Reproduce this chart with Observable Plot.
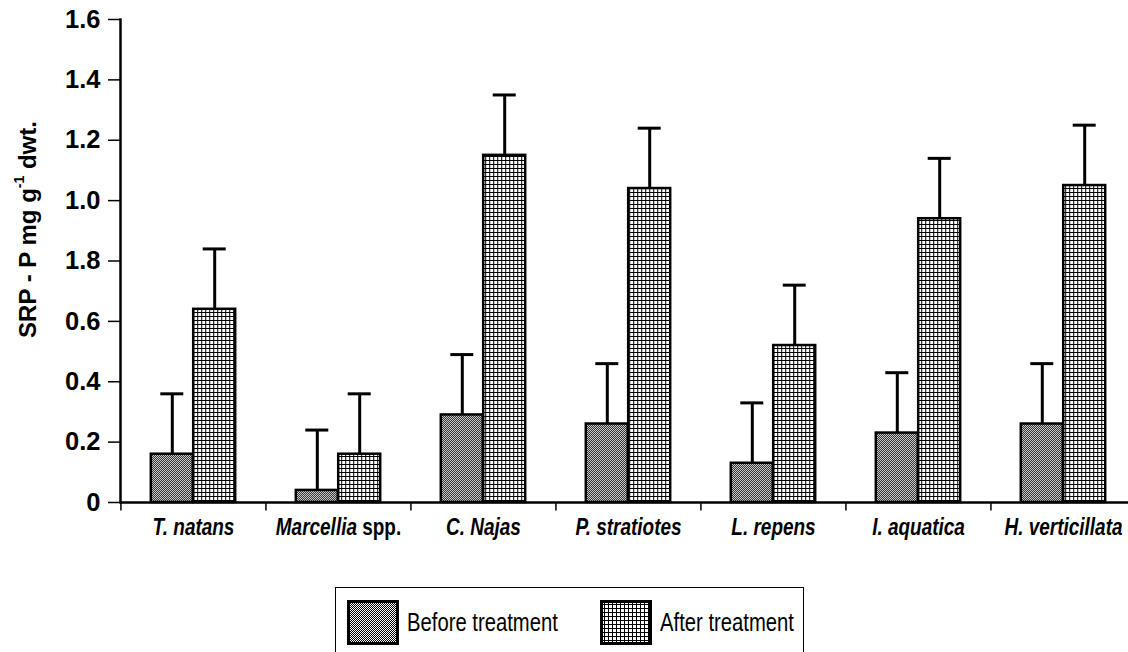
<!DOCTYPE html>
<html>
<head>
<meta charset="utf-8">
<script src="https://cdn.jsdelivr.net/npm/d3@7"></script>
<script src="https://cdn.jsdelivr.net/npm/@observablehq/plot@0.6"></script>
<style>
  html, body { margin: 0; padding: 0; background: #fff; }
  #wrap { position: relative; width: 1128px; height: 652px; overflow: hidden; }
  #legend { position: absolute; left: 335px; top: 587px; width: 469px; height: 68px;
            border: 1.5px solid #000; box-sizing: border-box;
            font-family: "Liberation Sans", Arial, sans-serif; }
  .item { position: absolute; top: 11.5px; height: 45px; display: flex; align-items: center; }
  .item span { display: inline-block; font-size: 25px; color: #000; margin-left: 8px; white-space: nowrap;
               transform: scaleX(0.81); transform-origin: 0 50%; }
  .item svg { display: block; }
</style>
</head>
<body>
<svg width="0" height="0" style="position:absolute">
  <defs>
    <pattern id="pat-before" width="2" height="2" patternUnits="userSpaceOnUse">
      <rect width="2" height="2" fill="#fff"/>
      <rect x="0" y="0" width="1" height="1" fill="#000"/>
      <rect x="1" y="1" width="1" height="1" fill="#000"/>
    </pattern>
    <pattern id="pat-after" width="4" height="4" patternUnits="userSpaceOnUse">
      <rect width="4" height="4" fill="#fff"/>
      <rect x="0" y="0" width="4" height="1" fill="#000"/>
      <rect x="0" y="0" width="1" height="4" fill="#000"/>
    </pattern>
  </defs>
</svg>
<div id="wrap"></div>
<script>
// ---- data ----
const species = ["T. natans", "Marcellia spp.", "C. Najas", "P. stratiotes", "L. repens", "I. aquatica", "H. verticillata"];
const seriesNames = ["Before treatment", "After treatment"];
const beforeValues = [0.16, 0.04, 0.29, 0.26, 0.13, 0.23, 0.26];
const afterValues = [0.64, 0.16, 1.15, 1.04, 0.52, 0.94, 1.05];
const beforeErrors = [0.20, 0.20, 0.20, 0.20, 0.20, 0.20, 0.20];
const afterErrors = [0.20, 0.20, 0.20, 0.20, 0.20, 0.20, 0.20];
const yTicks = [0, 0.2, 0.4, 0.6, 0.8, 1.0, 1.2, 1.4, 1.6];
const yTickLabels = ["0", "0.2", "0.4", "0.6", "1.8", "1.0", "1.2", "1.4", "1.6"];
const yLabel = ["SRP - P mg g", "-1", " dwt."];

// ---- build rows ----
const beforeRows = species.map((s, i) => ({species: s, series: seriesNames[0], value: beforeValues[i], err: beforeErrors[i]}));
const afterRows = species.map((s, i) => ({species: s, series: seriesNames[1], value: afterValues[i], err: afterErrors[i]}));

// ---- layout ----
const W = 1128, H = 545;
const mLeft = 120, mTop = 19, mBottom = 43;
const xRange = [mLeft, 1136];
const step = (xRange[1] - xRange[0]) / species.length;
const barW = 42.4;
const padInner = 1 - barW / step;
const sansFont = '"Liberation Sans", Arial, sans-serif';

function seriesMarks(rows, fillId, dx) {
  return [
    Plot.ruleX(rows, {x: "species", y1: "value", y2: d => d.value + d.err, dx, stroke: "#000", strokeWidth: 3}),
    Plot.tickY(rows, {x: "species", y: d => d.value + d.err, dx, insetLeft: 9.5, insetRight: 9.5, stroke: "#000", strokeWidth: 3}),
    Plot.barY(rows, {x: "species", y: "value", dx, fill: `url(#${fillId})`, stroke: "#000", strokeWidth: 2.5})
  ];
}

const chart = Plot.plot({
  width: W,
  height: H,
  marginLeft: mLeft,
  marginRight: 0,
  marginTop: mTop,
  marginBottom: mBottom,
  style: {fontFamily: sansFont, fontSize: "24px", fontWeight: "bold", color: "#000", background: "transparent", overflow: "visible"},
  x: {domain: species, range: xRange, paddingInner: padInner, paddingOuter: padInner / 2, tickSize: 0, tickPadding: 15, label: null},
  y: {domain: [0, 1.6], ticks: yTicks, tickSize: 12, tickPadding: 8, label: null,
      tickFormat: d => { const i = yTicks.findIndex(t => Math.abs(t - d) < 1e-9); return i >= 0 ? yTickLabels[i] : ""; }},
  marks: [
    Plot.ruleX(species, {x: d => d, dx: -step / 2, y1: 0, y2: -0.028, stroke: "#000", strokeWidth: 1.5}),
    ...seriesMarks(beforeRows, "pat-before", -barW / 2),
    ...seriesMarks(afterRows, "pat-after", barW / 2),
    Plot.ruleY([0], {stroke: "#000", strokeWidth: 2.5}),
    Plot.frame({anchor: "left", stroke: "#000", strokeWidth: 2.5})
  ]
});

const wrap = document.getElementById("wrap");
wrap.appendChild(chart);

const svg = d3.select(chart);
// y tick labels
svg.selectAll('g[aria-label^="y-axis"] text')
  .style("font-family", sansFont)
  .style("font-size", "25.5px")
  .style("font-weight", "bold");
svg.selectAll('g[aria-label^="y-axis"] line, g[aria-label^="y-axis"] path')
  .attr("stroke-width", 1.5);
// x tick labels: bold italic, condensed; "spp." upright
svg.selectAll('g[aria-label^="x-axis"] text').each(function() {
  const t = d3.select(this);
  const txt = t.text();
  t.style("font-style", "italic").style("font-size", "24px").style("font-weight", "bold");
  if (txt.endsWith(" spp.")) {
    t.text("");
    t.append("tspan").text(txt.slice(0, -5));
    t.append("tspan").style("font-style", "normal").text(" spp.");
  }
  const L = this.getComputedTextLength();
  this.setAttribute("textLength", (L * 0.79).toFixed(1));
  this.setAttribute("lengthAdjust", "spacingAndGlyphs");
});
// y axis title
const yl = svg.append("text")
  .attr("transform", `translate(27,${(mTop + (H - mBottom)) / 2 - 31}) rotate(-90)`)
  .attr("text-anchor", "middle")
  .attr("dominant-baseline", "central")
  .style("font-family", sansFont)
  .style("font-size", "24px")
  .style("font-weight", "bold")
  .attr("fill", "#000");
yl.append("tspan").text(yLabel[0]);
yl.append("tspan").attr("baseline-shift", "super").style("font-size", "14px").text(yLabel[1]);
yl.append("tspan").text(yLabel[2]);

// ---- legend ----
const legend = document.createElement("div");
legend.id = "legend";
const legendFills = ["pat-before", "pat-after"];
const legendLefts = [10.5, 263.5];
seriesNames.forEach((name, i) => {
  const item = document.createElement("div");
  item.className = "item";
  item.style.left = legendLefts[i] + "px";
  item.innerHTML = `<svg width="52" height="45"><rect x="1.5" y="1.5" width="49" height="42" fill="url(#${legendFills[i]})" stroke="#000" stroke-width="3"/></svg><span>${name}</span>`;
  legend.appendChild(item);
});
wrap.appendChild(legend);
</script>
</body>
</html>
